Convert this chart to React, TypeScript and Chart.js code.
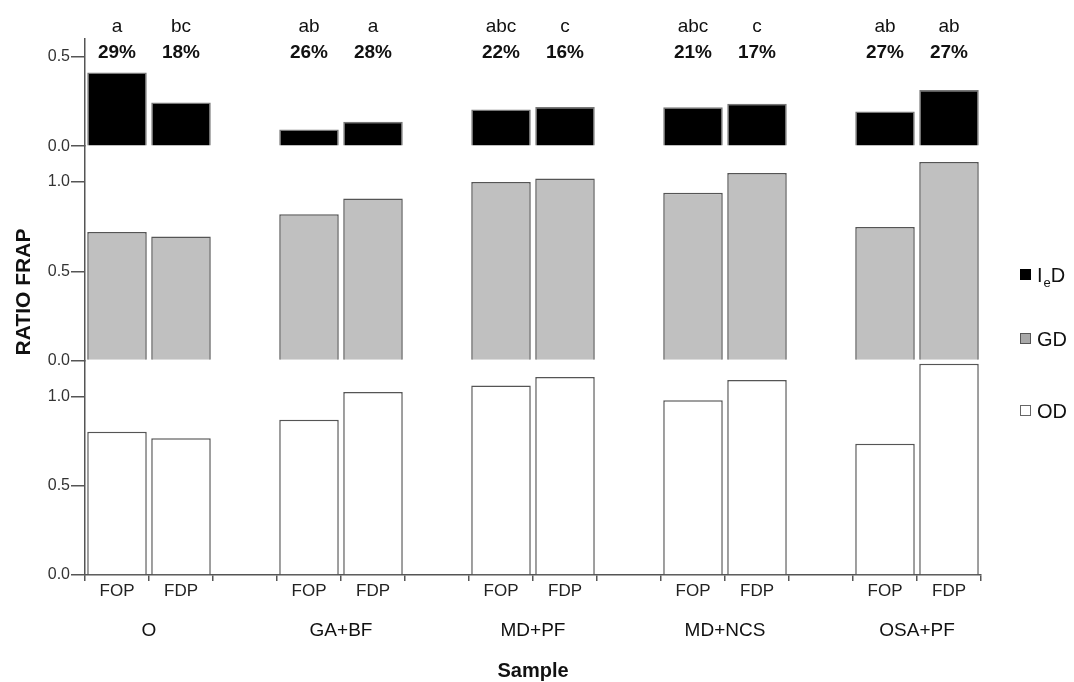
import React, { useEffect, useRef } from 'react';
import { Chart, registerables } from 'chart.js';

Chart.register(...registerables);

const FONT = "'Liberation Sans', Arial, Helvetica, sans-serif";

const groups = ['O', 'GA+BF', 'MD+PF', 'MD+NCS', 'OSA+PF'];
const treatments = ['FOP', 'FDP'];
const iedValues = [0.413, 0.245, 0.094, 0.137, 0.205, 0.22, 0.218, 0.238, 0.194, 0.315];
const gdValues = [0.72, 0.695, 0.819, 0.907, 1.0, 1.019, 0.94, 1.05, 0.748, 1.112];
const odValues = [0.802, 0.766, 0.869, 1.024, 1.06, 1.108, 0.978, 1.092, 0.735, 1.183];
const letters = ['a', 'bc', 'ab', 'a', 'abc', 'c', 'abc', 'c', 'ab', 'ab'];
const percents = ['29%', '18%', '26%', '28%', '22%', '16%', '21%', '17%', '27%', '27%'];
const topTicks = [0, 0.5];
const lowerTicks = [0, 0.5, 1.0];
const legendLabels = ['I_eD', 'GD', 'OD'];
const xTitle = 'Sample';
const yTitle = 'RATIO FRAP';

// slots: FOP, FDP, (gap) per group
const slotLabels: string[] = [];
const slotIndex: number[] = [];
groups.forEach((g, gi) => {
  treatments.forEach((t) => {
    slotIndex.push(slotLabels.length);
    slotLabels.push(t);
  });
  if (gi < groups.length - 1) slotLabels.push('');
});
const pad = (vals: number[]) => {
  const out: (number | null)[] = slotLabels.map(() => null);
  vals.forEach((v, i) => { out[slotIndex[i]] = v; });
  return out;
};

const yAxis = (min: number, max: number, ticks: number[], weight: number) => ({
  type: 'linear',
  position: 'left',
  stack: 'panels',
  stackWeight: weight,
  min,
  max,
  grid: { drawOnChartArea: false, tickLength: 14, color: '#555', lineWidth: 1.5 },
  border: { display: true, color: '#555', width: 1.5 },
  ticks: {
    font: { family: FONT, size: 16 },
    color: '#333',
    padding: 1,
    callback: (v: any) => Number(v).toFixed(1),
  },
  afterBuildTicks: (s: any) => { s.ticks = ticks.map((v) => ({ value: v })); },
  afterFit: (s: any) => { s.width = 85; },
});

const textPlugin = {
  id: 'texts',
  afterDraw(chart: any) {
    const ctx = chart.ctx;
    const x = chart.scales.x;
    const area = chart.chartArea;
    ctx.save();
    ctx.fillStyle = '#111';
    ctx.textAlign = 'center';
    ctx.textBaseline = 'alphabetic';
    letters.forEach((l, i) => {
      const px = x.getPixelForValue(slotIndex[i]);
      ctx.font = `19px ${FONT}`;
      ctx.fillText(l, px, 32);
      ctx.font = `bold 19px ${FONT}`;
      ctx.fillText(percents[i], px, 58);
    });
    ctx.font = `19px ${FONT}`;
    groups.forEach((g, gi) => {
      const a = x.getPixelForValue(slotIndex[gi * 2]);
      const b = x.getPixelForValue(slotIndex[gi * 2 + 1]);
      ctx.fillText(g, (a + b) / 2, 636);
    });
    ctx.font = `bold 20px ${FONT}`;
    ctx.fillText(xTitle, (area.left + area.right) / 2, 677);
    ctx.save();
    ctx.translate(29.5, 292);
    ctx.rotate(-Math.PI / 2);
    ctx.font = `bold 21px ${FONT}`;
    ctx.fillText(yTitle, 0, 0);
    ctx.restore();

    // legend
    const ys = [282, 346, 418];
    const fills = ['#000000', '#a8a8a8', '#ffffff'];
    const strokes = ['#000000', '#555555', '#666666'];
    ctx.textAlign = 'left';
    legendLabels.forEach((lab, i) => {
      const y = ys[i];
      ctx.fillStyle = fills[i];
      ctx.strokeStyle = strokes[i];
      ctx.lineWidth = 1;
      ctx.fillRect(1020.5, y - 12.5, 10, 10);
      ctx.strokeRect(1020.5, y - 12.5, 10, 10);
      ctx.fillStyle = '#111';
      let tx = 1037;
      const parts = lab.split('_');
      ctx.font = `20px ${FONT}`;
      if (parts.length === 2) {
        ctx.fillText(parts[0], tx, y);
        tx += ctx.measureText(parts[0]).width + 1;
        ctx.font = `13px ${FONT}`;
        ctx.fillText(parts[1].charAt(0), tx, y + 5);
        tx += ctx.measureText(parts[1].charAt(0)).width;
        ctx.font = `20px ${FONT}`;
        ctx.fillText(parts[1].slice(1), tx, y);
      } else {
        ctx.fillText(lab, tx, y);
      }
    });
    ctx.restore();
  },
};

export default function App() {
  const ref = useRef<HTMLCanvasElement>(null);
  useEffect(() => {
    if (!ref.current) return;
    const barCommon = {
      grouped: false,
      barPercentage: 0.93,
      categoryPercentage: 1,
      borderWidth: 1.5,
    };
    const chart = new Chart(ref.current, {
      type: 'bar',
      data: {
        labels: slotLabels,
        datasets: [
          { ...barCommon, label: 'OD', data: pad(odValues), yAxisID: 'yO', backgroundColor: '#ffffff', borderColor: '#555555' },
          { ...barCommon, label: 'GD', data: pad(gdValues), yAxisID: 'yG', backgroundColor: '#c0c0c0', borderColor: '#555555' },
          { ...barCommon, label: 'IeD', data: pad(iedValues), yAxisID: 'yI', backgroundColor: '#000000', borderColor: '#777777' },
        ] as any,
      },
      options: {
        responsive: false,
        animation: false,
        layout: { padding: { top: 39, right: 93, left: 0, bottom: 0 } },
        plugins: { legend: { display: false }, tooltip: { enabled: false } },
        scales: {
          x: {
            type: 'category',
            grid: { drawOnChartArea: false, offset: true, tickLength: 6, color: '#555', lineWidth: 1.5 },
            border: { display: true, color: '#555', width: 1.5 },
            ticks: { font: { family: FONT, size: 17 }, color: '#222', padding: 0, autoSkip: false, maxRotation: 0 },
            afterFit: (s: any) => { s.height = 107; },
          },
          yO: yAxis(0, 1.2, lowerTicks, 2),
          yG: yAxis(0, 1.2, lowerTicks, 2),
          yI: yAxis(0, 0.6, topTicks, 1),
        } as any,
      },
      plugins: [textPlugin],
    });
    return () => chart.destroy();
  }, []);
  return (
    <div style={{ position: 'fixed', left: 0, top: 0, width: 1074, height: 682, background: '#fff' }}>
      <canvas ref={ref} width={1074} height={682} style={{ display: 'block' }} />
    </div>
  );
}
